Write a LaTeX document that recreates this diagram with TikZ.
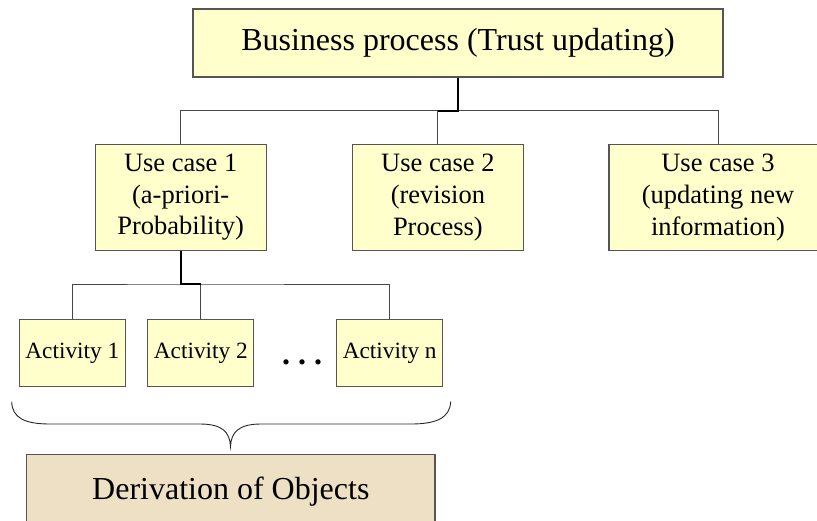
\documentclass[tikz,border=0pt]{standalone}
\usepackage{fontspec}
\setmainfont{Liberation Serif}
\definecolor{boxyellow}{RGB}{255,255,204}
\definecolor{boxline}{RGB}{85,85,85}
\definecolor{connline}{RGB}{70,70,70}
\definecolor{parch}{RGB}{237,224,196}
\tikzset{
  ybox/.style={draw=boxline, line width=1.1pt, fill=boxyellow, inner sep=0pt, align=center},
  conn/.style={draw=connline, line width=0.9pt},
  thickconn/.style={draw=black, line width=1.8pt},
}
\begin{document}
\begin{tikzpicture}[x=1pt,y=-1pt]
\useasboundingbox (0,0) rectangle (817,520);
% top box
\node[ybox, minimum width=530pt, minimum height=68pt, font=\fontsize{32}{38}\selectfont] (top) at (458,43) {Business process (Trust updating)};
% use cases
\node[ybox, minimum width=171.3pt, minimum height=105.3pt, font=\fontsize{26.5}{31.7}\selectfont] (uc1) at (180.7,197.4) {Use case 1\\(a-priori-\\Probability)};
\node[ybox, minimum width=171.7pt, minimum height=105.3pt, font=\fontsize{26.5}{31.7}\selectfont] (uc2) at (437.9,197.4) {Use case 2\\(revision\\Process)};
\node[ybox, minimum width=218pt, minimum height=105.3pt, font=\fontsize{26.5}{31.7}\selectfont] (uc3) at (718,197.4) {Use case 3\\(updating new\\information)};
% activities
\node[ybox, minimum width=106pt, minimum height=67.7pt, font=\fontsize{23.3}{28}\selectfont] (a1) at (72.3,352.9) {Activity 1};
\node[ybox, minimum width=106pt, minimum height=67.7pt, font=\fontsize{23.3}{28}\selectfont] (a2) at (200.8,352.9) {Activity 2};
\node[ybox, minimum width=106pt, minimum height=67.7pt, font=\fontsize{23.3}{28}\selectfont] (an) at (389.7,352.9) {Activity n};
\node[anchor=base, inner sep=0pt, font=\fontsize{32}{36}\bfseries] (dots) at (302,364) {.\ .\ .};
% derivation box
\node[draw=boxline, line width=1.1pt, fill=parch, inner sep=0pt, minimum width=408.3pt, minimum height=75.4pt, font=\fontsize{32}{38}\selectfont] (der) at (230.85,492) {Derivation of Objects};
% connectors upper
\coordinate (bus) at (458,110.7);
\draw[conn] (uc1.north) |- (bus) -| (uc3.north);
\draw[conn] (uc2.north) -- (uc2.north |- bus);
\draw[thickconn] (top.south) -- (bus) -- (uc2.north |- bus);
% connectors lower
\coordinate (bus2) at (180.7,284);
\draw[conn] (a1.north) |- (bus2) -| (an.north);
\draw[conn] (a2.north) -- (a2.north |- bus2);
\draw[thickconn] (uc1.south) -- (bus2) -- (a2.north |- bus2);
% brace
\coordinate (bl) at (11.7,401.7);
\coordinate (br) at (450.7,401.7);
\coordinate (tip) at (230.5,446.7);
\draw[draw=black!85, line width=0.9pt]
  (bl) .. controls (12,418) and (25,424) .. (50,424)
  -- (200,424) .. controls (222,424) and (230,432) .. (tip)
  .. controls (231,432) and (239,424) .. (261,424)
  -- (411,424) .. controls (436,424) and (450,418) .. (br);
\end{tikzpicture}
\end{document}
